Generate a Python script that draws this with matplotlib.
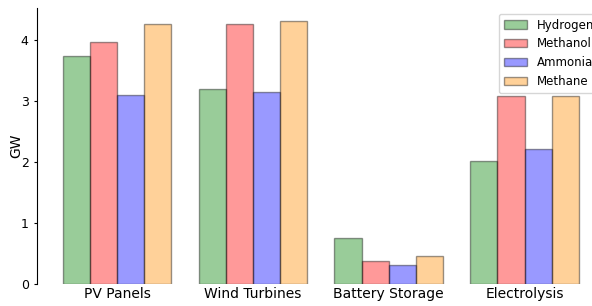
import numpy as np
import matplotlib
matplotlib.use("Agg")
import matplotlib.pyplot as plt

categories = ["PV Panels", "Wind Turbines", "Battery Storage", "Electrolysis"]
series = ["Hydrogen", "Methanol", "Ammonia", "Methane"]
hydrogen = [3.74, 3.20, 0.75, 2.02]
methanol = [3.97, 4.26, 0.38, 3.08]
ammonia = [3.10, 3.15, 0.31, 2.21]
methane = [4.26, 4.31, 0.46, 3.07]
colors = ["green", "red", "blue", "darkorange"]


def main():
    values = [hydrogen, methanol, ammonia, methane]
    fig = plt.figure(figsize=(5.92, 3.06), dpi=100)
    ax = fig.add_axes([0.0625, 0.072, 0.959, 0.902])
    x = np.arange(len(categories))
    width = 0.2
    for i, (name, vals) in enumerate(zip(series, values)):
        ax.bar(x + (i - 1.5) * width, vals, width, label=name,
               color=colors[i], alpha=0.4, edgecolor="black", linewidth=1)
    ax.set_xticks(x)
    ax.set_xticklabels(categories, fontsize=10)
    ax.tick_params(axis="x", length=0, pad=2)
    ax.tick_params(axis="y", length=2.5, labelsize=9)
    ax.set_ylabel("GW", fontsize=10, labelpad=-2)
    ax.set_ylim(0, 4.52)
    for s in ["top", "right", "bottom"]:
        ax.spines[s].set_visible(False)
    # legend runs past the right edge, as in the original crop
    ax.legend(loc="upper right", fontsize=8.5)
    fig.savefig("out.png", dpi=100)


if __name__ == "__main__":
    main()
